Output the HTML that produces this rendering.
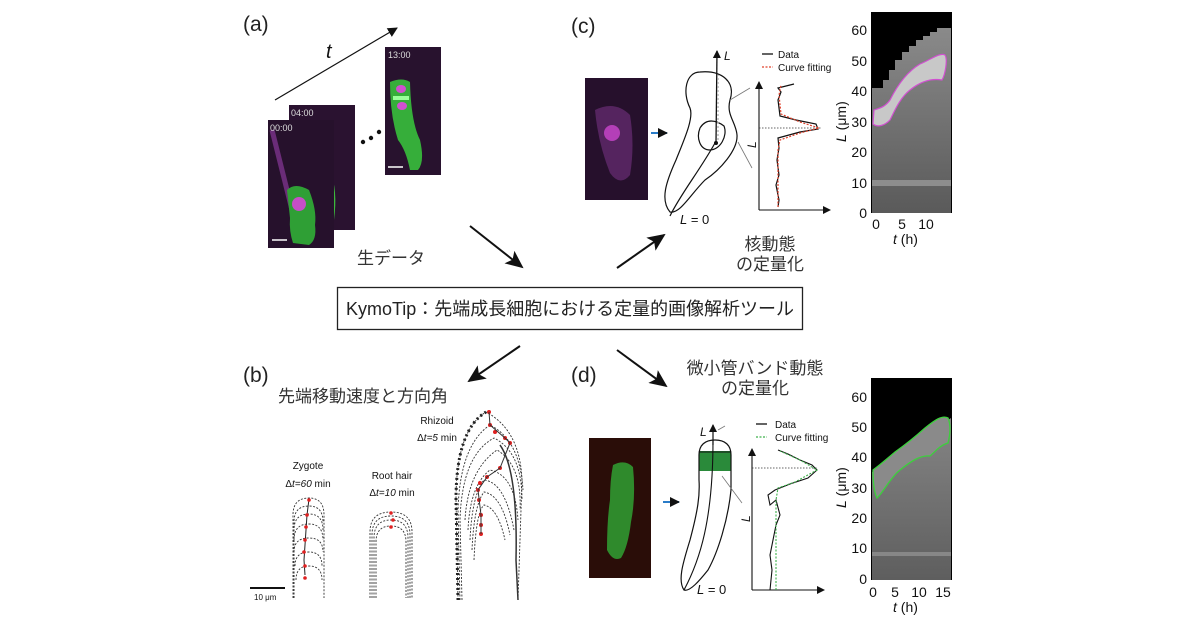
<!DOCTYPE html>
<html><head><meta charset="utf-8"><style>
html,body{margin:0;padding:0;background:#fff;}
svg{display:block;font-family:"Liberation Sans","Noto Sans CJK JP",sans-serif;}
</style></head><body>
<svg width="1200" height="630" viewBox="0 0 1200 630" xmlns="http://www.w3.org/2000/svg">
<defs>
<marker id="ah" markerWidth="10" markerHeight="10" refX="9" refY="5" orient="auto" markerUnits="userSpaceOnUse"><path d="M0,0 L10,5 L0,10 z" fill="#111"/></marker>
<marker id="bh" markerWidth="18" markerHeight="16" refX="16" refY="8" orient="auto" markerUnits="userSpaceOnUse"><path d="M0,0 L18,8 L0,16 L4,8 z" fill="#111"/></marker>
<marker id="sh" markerWidth="8" markerHeight="8" refX="7" refY="4" orient="auto" markerUnits="userSpaceOnUse"><path d="M0,0 L8,4 L0,8 z" fill="#111"/></marker>
<linearGradient id="kg" x1="0" y1="0" x2="0" y2="1"><stop offset="0" stop-color="#8a8a8a"/><stop offset="1" stop-color="#5a5a5a"/></linearGradient>
<linearGradient id="kg2" x1="0" y1="0" x2="0" y2="1"><stop offset="0" stop-color="#858585"/><stop offset="1" stop-color="#5e5e5e"/></linearGradient>
</defs>

<!-- (a) -->
<text x="243" y="31" font-size="21" fill="#222">(a)</text>
<line x1="275" y1="100" x2="397" y2="28" stroke="#111" stroke-width="1.2" marker-end="url(#ah)"/>
<text x="326" y="58" font-size="20" font-style="italic" fill="#111">t</text>
<rect x="289" y="105" width="66" height="125" fill="#2a1230"/>
<path d="M330,170 q8,20 4,50 l-5,0 q2,-30 -4,-45z" fill="#3cb83c"/>
<text x="291" y="116" font-size="9" fill="#ddd">04:00</text>
<rect x="268" y="120" width="66" height="128" fill="#26112c"/>
<path d="M272,130 q10,40 20,80" stroke="#6a2c78" stroke-width="5" fill="none"/>
<path d="M287,190 q8,-8 22,0 q8,20 6,35 q2,15 -6,20 l-16,-2 q-4,-12 -3,-25z" fill="#2f9f35"/>
<ellipse cx="299" cy="204" rx="7" ry="7" fill="#c64fc6"/>
<text x="270" y="131" font-size="9" fill="#ddd">00:00</text>
<line x1="272" y1="240" x2="287" y2="240" stroke="#fff" stroke-width="1.5"/>
<rect x="385" y="47" width="56" height="128" fill="#28122e"/>
<path d="M390,82 q12,-5 20,0 q1,40 10,58 q5,22 -2,30 l-8,0 q-4,-20 -12,-30 q-8,-25 -8,-58z" fill="#36ae3a"/>
<rect x="393" y="96" width="16" height="4" fill="#9f9"/>
<ellipse cx="401" cy="89" rx="5" ry="4" fill="#d050d0"/>
<ellipse cx="402" cy="106" rx="5" ry="4" fill="#d050d0"/>
<text x="388" y="58" font-size="9" fill="#ddd">13:00</text>
<line x1="388" y1="167" x2="403" y2="167" stroke="#fff" stroke-width="1.5"/>
<circle cx="363" cy="142" r="2.2" fill="#111"/><circle cx="371" cy="138" r="2.2" fill="#111"/><circle cx="379" cy="132" r="2.2" fill="#111"/>
<text x="357" y="264" font-size="17" fill="#333">生データ</text>

<!-- central arrows & box -->
<line x1="470" y1="226" x2="522" y2="267" stroke="#111" stroke-width="2" marker-end="url(#bh)"/>
<line x1="617" y1="268" x2="664" y2="235" stroke="#111" stroke-width="2" marker-end="url(#bh)"/>
<line x1="520" y1="346" x2="469" y2="381" stroke="#111" stroke-width="2" marker-end="url(#bh)"/>
<line x1="617" y1="350" x2="666" y2="386" stroke="#111" stroke-width="2" marker-end="url(#bh)"/>
<rect x="337.5" y="287.5" width="465" height="42" fill="#fff" stroke="#222" stroke-width="1.3"/>
<text x="346" y="315" font-size="18" fill="#222" textLength="448" lengthAdjust="spacingAndGlyphs">KymoTip：先端成長細胞における定量的画像解析ツール</text>

<!-- (c) -->
<text x="571" y="33" font-size="21" fill="#222">(c)</text>
<rect x="585" y="78" width="63" height="122" fill="#26102c"/>
<path d="M595,110 q20,-10 35,5 q5,30 0,60 q-10,12 -20,-2 q-12,-30 -15,-63z" fill="#55245f"/>
<ellipse cx="612" cy="133" rx="8" ry="8" fill="#b43fb8"/>
<line x1="651" y1="133" x2="667" y2="133" stroke="#2a7cc8" stroke-width="2" marker-end="url(#ah)"/>
<path d="M700,72 C686,72 682,92 690,108 C694,118 684,140 676,160 C666,182 660,200 670,212 C680,214 690,195 705,180 C720,170 738,150 737,135 C736,122 726,115 730,100 C736,82 722,70 700,72 z" fill="none" stroke="#111" stroke-width="1.2"/>
<path d="M700,128 C706,118 716,120 724,126 C728,136 720,150 710,150 C700,150 696,138 700,128 z" fill="none" stroke="#111" stroke-width="1.2"/>
<path d="M670,216 C680,195 700,170 715,143" fill="none" stroke="#111" stroke-width="1.2"/>
<line x1="716" y1="143" x2="717" y2="51" stroke="#111" stroke-width="1.3" marker-end="url(#sh)"/>
<line x1="718" y1="140" x2="718" y2="75" stroke="#bbb" stroke-width="1.5" stroke-dasharray="2,2"/>
<circle cx="716" cy="143" r="2" fill="#111"/>
<text x="724" y="60" font-size="12" font-style="italic" fill="#111">L</text>
<text x="680" y="224" font-size="13" fill="#111"><tspan font-style="italic">L</tspan> = 0</text>
<line x1="730" y1="100" x2="750" y2="88" stroke="#777" stroke-width="0.8"/>
<line x1="738" y1="142" x2="752" y2="168" stroke="#777" stroke-width="0.8"/>
<line x1="759" y1="210" x2="759" y2="82" stroke="#111" stroke-width="1.1" marker-end="url(#sh)"/>
<line x1="759" y1="210" x2="830" y2="210" stroke="#111" stroke-width="1.1" marker-end="url(#sh)"/>
<line x1="759" y1="128" x2="822" y2="128" stroke="#333" stroke-width="0.8" stroke-dasharray="1.5,1.5"/>
<text x="0" y="0" font-size="12" font-style="italic" fill="#111" transform="translate(756,148) rotate(-90)">L</text>
<path d="M778,207 L779,200 L776,185 L779,175 L777,160 L779,148 L778,138 L800,132 L818,129 L816,124 L796,120 L780,116 L778,100 L781,92 L778,88 L794,84" fill="none" stroke="#111" stroke-width="1.2"/>
<path d="M778,207 L778,150 L780,140 L800,133 L819,128 L800,122 L781,114 L779,95 L781,85" fill="none" stroke="#e0402a" stroke-width="1.2" stroke-dasharray="2,1.5"/>
<line x1="762" y1="54" x2="773" y2="54" stroke="#111" stroke-width="1.3"/>
<text x="778" y="58" font-size="10" fill="#111">Data</text>
<line x1="762" y1="67" x2="773" y2="67" stroke="#e0402a" stroke-width="1.3" stroke-dasharray="2,1.5"/>
<text x="778" y="71" font-size="10" fill="#111">Curve fitting</text>
<text x="770" y="250" font-size="17" fill="#333" text-anchor="middle">核動態</text>
<text x="770" y="270" font-size="17" fill="#333" text-anchor="middle">の定量化</text>

<!-- kymograph c -->
<rect x="871" y="12" width="81" height="201" fill="#000"/>
<path d="M872,213 L872,88 L883,88 L883,80 L889,80 L889,70 L895,70 L895,60 L902,60 L902,52 L909,52 L909,46 L916,46 L916,40 L923,40 L923,36 L930,36 L930,32 L937,32 L937,28 L951,28 L951,213 z" fill="url(#kg)"/>
<rect x="872" y="180" width="79" height="6" fill="#aaa" opacity="0.6"/>
<path d="M874,110 C880,108 885,107 890,100 C900,80 910,70 920,64 C930,60 940,52 945,55 C948,60 945,75 942,80 C930,78 920,82 910,90 C900,98 895,110 890,120 C885,125 878,128 873,124 z" fill="#c8c8c8" stroke="#d050d0" stroke-width="1.2"/>
<g font-size="14" fill="#111" text-anchor="end">
<text x="867" y="35">60</text><text x="867" y="66">50</text><text x="867" y="96">40</text><text x="867" y="127">30</text><text x="867" y="157">20</text><text x="867" y="188">10</text><text x="867" y="218">0</text>
</g>
<g font-size="14" fill="#111" text-anchor="middle">
<text x="876" y="229">0</text><text x="902" y="229">5</text><text x="926" y="229">10</text>
</g>
<text x="893" y="244" font-size="14" fill="#111"><tspan font-style="italic">t</tspan>   (h)</text>
<text x="0" y="0" font-size="14" fill="#111" transform="translate(846,142) rotate(-90)"><tspan font-style="italic">L</tspan>   (μm)</text>

<!-- (b) -->
<text x="243" y="382" font-size="21" fill="#222">(b)</text>
<text x="278" y="402" font-size="17" fill="#333">先端移動速度と方向角</text>
<text x="308" y="469" font-size="10" fill="#111" text-anchor="middle">Zygote</text>
<text x="308" y="487" font-size="10" fill="#111" text-anchor="middle">Δ<tspan font-style="italic">t=60</tspan> min</text>
<text x="392" y="479" font-size="10" fill="#111" text-anchor="middle">Root hair</text>
<text x="392" y="496" font-size="10" fill="#111" text-anchor="middle">Δ<tspan font-style="italic">t=10</tspan> min</text>
<text x="437" y="424" font-size="10" fill="#111" text-anchor="middle">Rhizoid</text>
<text x="437" y="441" font-size="10" fill="#111" text-anchor="middle">Δ<tspan font-style="italic">t=5</tspan> min</text>
<g fill="none" stroke="#333" stroke-width="0.9" stroke-dasharray="2,1.5">
<path d="M293,598 L293,515 Q293,498 309,498 Q324,498 324,515 L324,598"/>
<path d="M294,598 L294,522 Q294,506 309,506 Q323,506 323,522"/>
<path d="M294,598 L294,530 Q294,514 309,514 Q323,514 323,530"/>
<path d="M294,540 Q294,524 309,524 Q323,524 323,540"/>
<path d="M294,552 Q294,538 309,538 Q323,538 323,552"/>
<path d="M295,566 Q295,552 309,552 Q322,552 322,566"/>
<path d="M296,580 Q296,566 309,566 Q322,566 322,580"/>
<path d="M370,598 L370,532 Q370,512 391,512 Q412,512 412,532 L412,598"/>
<path d="M372,598 L372,535 Q372,516 391,516 Q410,516 410,535 L410,598"/>
<path d="M374,598 L374,538 Q374,520 391,520 Q408,520 408,538 L408,598"/>
<path d="M376,598 L376,542 Q376,526 391,526 Q406,526 406,542 L406,598"/>
<path d="M458,600 L456,500 Q456,430 486,412 Q520,430 522,480 L518,600"/>
<path d="M460,600 L458,510 Q460,445 490,425 Q520,440 523,490"/>
<path d="M462,600 L460,520 Q462,455 494,438 Q522,452 522,500"/>
<path d="M465,520 Q468,470 497,450 Q522,465 520,510"/>
<path d="M468,530 Q470,485 490,470 Q515,475 518,520"/>
<path d="M470,540 Q472,495 484,480 Q505,482 514,530"/>
<path d="M472,550 Q474,505 484,492 Q502,495 510,535"/>
<path d="M474,560 Q476,512 484,505 Q498,508 505,540"/>
</g>
<path d="M458,600 L456,500 Q456,430 486,412" fill="none" stroke="#222" stroke-width="3" stroke-dasharray="2,3"/>
<path d="M518,600 L516,560 Q518,470 500,445" fill="none" stroke="#333" stroke-width="1.5"/>
<path d="M309,499 L307,515 L306,530 L305,545 L304,560 L305,575" fill="none" stroke="#222" stroke-width="1"/>
<g fill="#e02020"><circle cx="309" cy="500" r="1.8"/><circle cx="307" cy="515" r="1.8"/><circle cx="306" cy="527" r="1.8"/><circle cx="305" cy="540" r="1.8"/><circle cx="304" cy="552" r="1.8"/><circle cx="305" cy="566" r="1.8"/><circle cx="305" cy="578" r="1.8"/>
<circle cx="391" cy="513" r="1.8"/><circle cx="393" cy="520" r="1.8"/><circle cx="391" cy="527" r="1.8"/>
<circle cx="489" cy="412" r="2"/><circle cx="490" cy="425" r="2"/><circle cx="495" cy="432" r="2"/><circle cx="505" cy="438" r="2"/><circle cx="510" cy="443" r="2"/><circle cx="500" cy="468" r="2"/><circle cx="487" cy="477" r="2"/><circle cx="480" cy="483" r="2"/><circle cx="478" cy="490" r="2"/><circle cx="479" cy="500" r="2"/><circle cx="481" cy="515" r="2"/><circle cx="481" cy="525" r="2"/><circle cx="481" cy="534" r="2"/></g>
<path d="M489,412 L490,425 L505,438 L510,443 L500,468 L487,477 L478,490 L481,515 L481,534" fill="none" stroke="#333" stroke-width="1"/>
<line x1="250" y1="588" x2="285" y2="588" stroke="#111" stroke-width="2"/>
<text x="254" y="600" font-size="8" fill="#111">10 μm</text>

<!-- (d) -->
<text x="571" y="382" font-size="21" fill="#222">(d)</text>
<text x="755" y="374" font-size="17" fill="#333" text-anchor="middle">微小管バンド動態</text>
<text x="755" y="394" font-size="17" fill="#333" text-anchor="middle">の定量化</text>
<rect x="589" y="438" width="62" height="140" fill="#2a0d08"/>
<path d="M613,465 q12,-6 20,2 q3,30 -2,55 q-3,25 -10,36 q-8,4 -14,-8 q0,-30 3,-50 q0,-20 3,-35z" fill="#2f8a2c"/>
<line x1="663" y1="502" x2="679" y2="502" stroke="#2a7cc8" stroke-width="2" marker-end="url(#ah)"/>
<rect x="699" y="451" width="32" height="20" fill="#2a8a3a"/>
<path d="M715,440 C705,440 699,445 699,455 L699,480 C700,495 698,510 690,540 C684,560 677,580 684,590 C690,592 700,580 708,570 C718,552 728,520 731,490 L731,455 C731,445 725,440 715,440 z" fill="none" stroke="#111" stroke-width="1.2"/>
<line x1="699" y1="452" x2="731" y2="452" stroke="#111" stroke-width="1"/>
<path d="M684,590 C700,560 713,520 713,440" fill="none" stroke="#111" stroke-width="1.1"/>
<line x1="713" y1="445" x2="713" y2="425" stroke="#111" stroke-width="1.2" marker-end="url(#sh)"/>
<text x="700" y="436" font-size="12" font-style="italic" fill="#111">L</text>
<text x="697" y="594" font-size="13" fill="#111"><tspan font-style="italic">L</tspan> = 0</text>
<line x1="718" y1="430" x2="725" y2="426" stroke="#777" stroke-width="0.8"/>
<line x1="722" y1="476" x2="742" y2="503" stroke="#777" stroke-width="0.8"/>
<line x1="752" y1="590" x2="752" y2="449" stroke="#111" stroke-width="1.1" marker-end="url(#sh)"/>
<line x1="752" y1="590" x2="824" y2="590" stroke="#111" stroke-width="1.1" marker-end="url(#sh)"/>
<line x1="752" y1="468" x2="818" y2="468" stroke="#333" stroke-width="0.8" stroke-dasharray="1.5,1.5"/>
<text x="0" y="0" font-size="12" font-style="italic" fill="#111" transform="translate(750,522) rotate(-90)">L</text>
<path d="M770,590 L772,570 L770,555 L773,540 L776,525 L780,515 L776,500 L770,505 L768,495 L775,490 L790,484 L808,478 L817,470 L812,465 L800,460 L788,454 L778,450" fill="none" stroke="#111" stroke-width="1.1"/>
<path d="M776,590 L776,500 L778,488 L795,482 L817,470 L800,460 L780,451" fill="none" stroke="#3cb04a" stroke-width="1.1" stroke-dasharray="2,1.5"/>
<line x1="756" y1="424" x2="767" y2="424" stroke="#111" stroke-width="1.3"/>
<text x="775" y="428" font-size="10" fill="#111">Data</text>
<line x1="756" y1="437" x2="767" y2="437" stroke="#3cb04a" stroke-width="1.3" stroke-dasharray="2,1.5"/>
<text x="775" y="441" font-size="10" fill="#111">Curve fitting</text>

<!-- kymograph d -->
<rect x="871" y="378" width="81" height="202" fill="#000"/>
<path d="M872,580 L872,472 L890,458 L910,445 L930,432 L951,418 L951,580 z" fill="url(#kg2)"/>
<rect x="872" y="552" width="79" height="4" fill="#aaa" opacity="0.5"/>
<path d="M873,470 C880,465 888,458 895,452 C905,445 915,437 925,428 C935,420 942,415 948,418 C951,425 950,435 948,443 C940,445 935,452 930,456 C920,455 910,462 900,470 C890,478 885,490 877,498 C874,492 873,480 873,470 z" fill="#8a8a8a" stroke="#3cd03c" stroke-width="1.3"/>
<g font-size="14" fill="#111" text-anchor="end">
<text x="867" y="402">60</text><text x="867" y="432">50</text><text x="867" y="462">40</text><text x="867" y="493">30</text><text x="867" y="523">20</text><text x="867" y="553">10</text><text x="867" y="584">0</text>
</g>
<g font-size="14" fill="#111" text-anchor="middle">
<text x="873" y="597">0</text><text x="895" y="597">5</text><text x="919" y="597">10</text><text x="943" y="597">15</text>
</g>
<text x="893" y="612" font-size="14" fill="#111"><tspan font-style="italic">t</tspan>   (h)</text>
<text x="0" y="0" font-size="14" fill="#111" transform="translate(846,508) rotate(-90)"><tspan font-style="italic">L</tspan>   (μm)</text>
</svg>
</body></html>
